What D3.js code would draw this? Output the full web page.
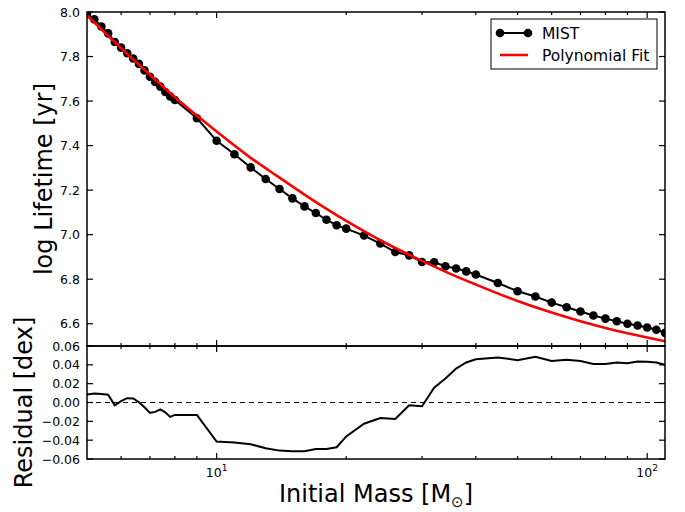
<!DOCTYPE html>
<html>
<head>
<meta charset="utf-8">
<script src="https://cdn.jsdelivr.net/npm/d3@7"></script>
<style>
  html, body { margin: 0; padding: 0; background: #fff; }
  svg { display: block; font-family: "DejaVu Sans", sans-serif; }
</style>
</head>
<body>
<svg id="chart" width="685" height="512"></svg>
<script>
// ---------- data ----------
const masses = [5.0,5.2,5.4,5.6,5.8,6.0,6.2,6.4,6.6,6.8,7.0,7.2,7.4,7.6,7.8,8.0,9,10,11,12,13,14,15,16,17,18,19,20,22,24,26,28,30,32,34,36,38,40,45,50,55,60,65,70,75,80,85,90,95,100,105,110];
const mistLogLife = [7.993,7.967,7.935,7.904,7.865,7.840,7.815,7.791,7.767,7.738,7.709,7.686,7.665,7.641,7.621,7.605,7.523,7.422,7.361,7.302,7.250,7.205,7.163,7.127,7.097,7.067,7.042,7.027,6.996,6.960,6.922,6.907,6.877,6.876,6.858,6.848,6.835,6.821,6.783,6.746,6.722,6.695,6.674,6.655,6.637,6.623,6.611,6.600,6.592,6.583,6.573,6.559];
const residuals = [0.0086,0.0095,0.0090,0.0083,-0.0030,0.0014,0.0046,0.0043,0.0003,-0.0050,-0.0110,-0.0100,-0.0072,-0.0104,-0.0153,-0.0132,-0.0132,-0.0415,-0.0425,-0.0443,-0.0486,-0.0511,-0.0518,-0.0518,-0.0493,-0.0493,-0.0475,-0.0360,-0.0225,-0.0164,-0.0175,-0.0029,-0.0040,0.0157,0.0254,0.0360,0.0425,0.0460,0.0479,0.0450,0.0486,0.0440,0.0453,0.0440,0.0410,0.0410,0.0425,0.0418,0.0436,0.0432,0.0425,0.0400];
const fitMasses = [5,6,7,8,9,10,12,14,16,18,20,25,30,35,40,50,60,70,80,90,100,110];
const fitLogLife = [7.985,7.838,7.718,7.617,7.535,7.463,7.345,7.256,7.180,7.116,7.062,6.957,6.882,6.823,6.776,6.702,6.650,6.611,6.581,6.557,6.538,6.521];
const topTicks = [6.6,6.8,7.0,7.2,7.4,7.6,7.8,8.0];
const botTicks = [-0.06,-0.04,-0.02,0.00,0.02,0.04,0.06];
const xMajor = [10,100];
const xMinor = [6,7,8,9,20,30,40,50,60,70,80,90];
const seriesNames = ["MIST","Polynomial Fit"];

// ---------- layout ----------
const L = 87, R = 665, T = 12, M = 346, B = 459;
const svg = d3.select("#chart");

const x = d3.scaleLog().domain([5,110]).range([L,R]);
const yTop = d3.scaleLinear().domain([6.5,8.0]).range([M,T]);
const yBot = d3.scaleLinear().domain([-0.06,0.06]).range([B,M]);

const defs = svg.append("defs");
defs.append("clipPath").attr("id","clipTop").append("rect").attr("x",L).attr("y",T).attr("width",R-L).attr("height",M-T);
defs.append("clipPath").attr("id","clipBot").append("rect").attr("x",L).attr("y",M).attr("width",R-L).attr("height",B-M);

// ---------- top panel ----------
const gTop = svg.append("g").attr("clip-path","url(#clipTop)");
const mist = masses.map((m,i)=>[m, mistLogLife[i]]);
gTop.append("path")
  .attr("d", d3.line().x(d=>x(d[0])).y(d=>yTop(d[1]))(mist))
  .attr("fill","none").attr("stroke","#000").attr("stroke-width",2);
gTop.selectAll("circle").data(mist).join("circle")
  .attr("cx", d=>x(d[0])).attr("cy", d=>yTop(d[1])).attr("r",4.3).attr("fill","#000");
const fit = fitMasses.map((m,i)=>[m, fitLogLife[i]]);
gTop.append("path")
  .attr("d", d3.line().curve(d3.curveMonotoneX).x(d=>x(d[0])).y(d=>yTop(d[1]))(fit))
  .attr("fill","none").attr("stroke","#ff0000").attr("stroke-width",2.6);

// ---------- bottom panel ----------
const gBot = svg.append("g").attr("clip-path","url(#clipBot)");
gBot.append("line").attr("x1",L).attr("x2",R).attr("y1",yBot(0)).attr("y2",yBot(0))
  .attr("stroke","#000").attr("stroke-width",1).attr("stroke-dasharray","5,4");
const res = masses.map((m,i)=>[m, residuals[i]]);
gBot.append("path")
  .attr("d", d3.line().x(d=>x(d[0])).y(d=>yBot(d[1]))(res))
  .attr("fill","none").attr("stroke","#000").attr("stroke-width",2);

// ---------- ticks ----------
const tk = svg.append("g").attr("stroke","#000").attr("stroke-width",1.2);
function xTicks(yEdge, dir) {
  xMajor.forEach(v => tk.append("line").attr("x1",x(v)).attr("x2",x(v)).attr("y1",yEdge).attr("y2",yEdge+dir*6));
  xMinor.forEach(v => tk.append("line").attr("x1",x(v)).attr("x2",x(v)).attr("y1",yEdge).attr("y2",yEdge+dir*3));
}
xTicks(T, 1); xTicks(M, -1); xTicks(M, 1); xTicks(B, -1);
function yTicks(scale, vals) {
  vals.forEach(v => {
    tk.append("line").attr("x1",L).attr("x2",L+6).attr("y1",scale(v)).attr("y2",scale(v));
    tk.append("line").attr("x1",R).attr("x2",R-6).attr("y1",scale(v)).attr("y2",scale(v));
  });
}
yTicks(yTop, topTicks); yTicks(yBot, botTicks);

// frames
svg.append("rect").attr("x",L).attr("y",T).attr("width",R-L).attr("height",M-T)
  .attr("fill","none").attr("stroke","#000").attr("stroke-width",1.5);
svg.append("rect").attr("x",L).attr("y",M).attr("width",R-L).attr("height",B-M)
  .attr("fill","none").attr("stroke","#000").attr("stroke-width",1.5);

// tick labels
const lab = svg.append("g").attr("font-size",12.5).attr("fill","#000");
topTicks.forEach(v => lab.append("text").attr("x",L-7).attr("y",yTop(v)).attr("dy","0.36em")
  .attr("text-anchor","end").text(d3.format(".1f")(v)));
botTicks.forEach(v => lab.append("text").attr("x",L-7).attr("y",yBot(v)).attr("dy","0.36em")
  .attr("text-anchor","end").text(d3.format(".2f")(v).replace("-","\u2212")));
xMajor.forEach(v => {
  const t = lab.append("text").attr("x",x(v)).attr("y",477).attr("text-anchor","middle");
  t.append("tspan").text("10");
  t.append("tspan").attr("dy",-6).attr("font-size",9).text(String(Math.round(Math.log10(v))));
});

// axis titles
svg.append("text").attr("transform",`translate(52,${(T+M)/2}) rotate(-90)`)
  .attr("text-anchor","middle").attr("font-size",24).text("log Lifetime [yr]");
svg.append("text").attr("transform",`translate(32,${(M+B)/2}) rotate(-90)`)
  .attr("text-anchor","middle").attr("font-size",24).text("Residual [dex]");
const xt = svg.append("text").attr("x",(L+R)/2).attr("y",502).attr("text-anchor","middle").attr("font-size",24);
xt.append("tspan").text("Initial Mass [M");
xt.append("tspan").attr("font-size",15).attr("dy",5).text("\u2299");
xt.append("tspan").attr("dy",-5).text("]");

// legend
const lg = svg.append("g");
lg.append("rect").attr("x",491).attr("y",19).attr("width",166).attr("height",50)
  .attr("fill","#fff").attr("stroke","#000").attr("stroke-width",1);
lg.append("line").attr("x1",500).attr("x2",528).attr("y1",33).attr("y2",33).attr("stroke","#000").attr("stroke-width",2);
[500,528].forEach(cx => lg.append("circle").attr("cx",cx).attr("cy",33).attr("r",4.3).attr("fill","#000"));
lg.append("line").attr("x1",500).attr("x2",528).attr("y1",55).attr("y2",55).attr("stroke","#ff0000").attr("stroke-width",2.6);
lg.append("text").attr("x",542).attr("y",33).attr("dy","0.36em").attr("font-size",15.5).text(seriesNames[0]);
lg.append("text").attr("x",542).attr("y",55).attr("dy","0.36em").attr("font-size",15.5).text(seriesNames[1]);
</script>
</body>
</html>
